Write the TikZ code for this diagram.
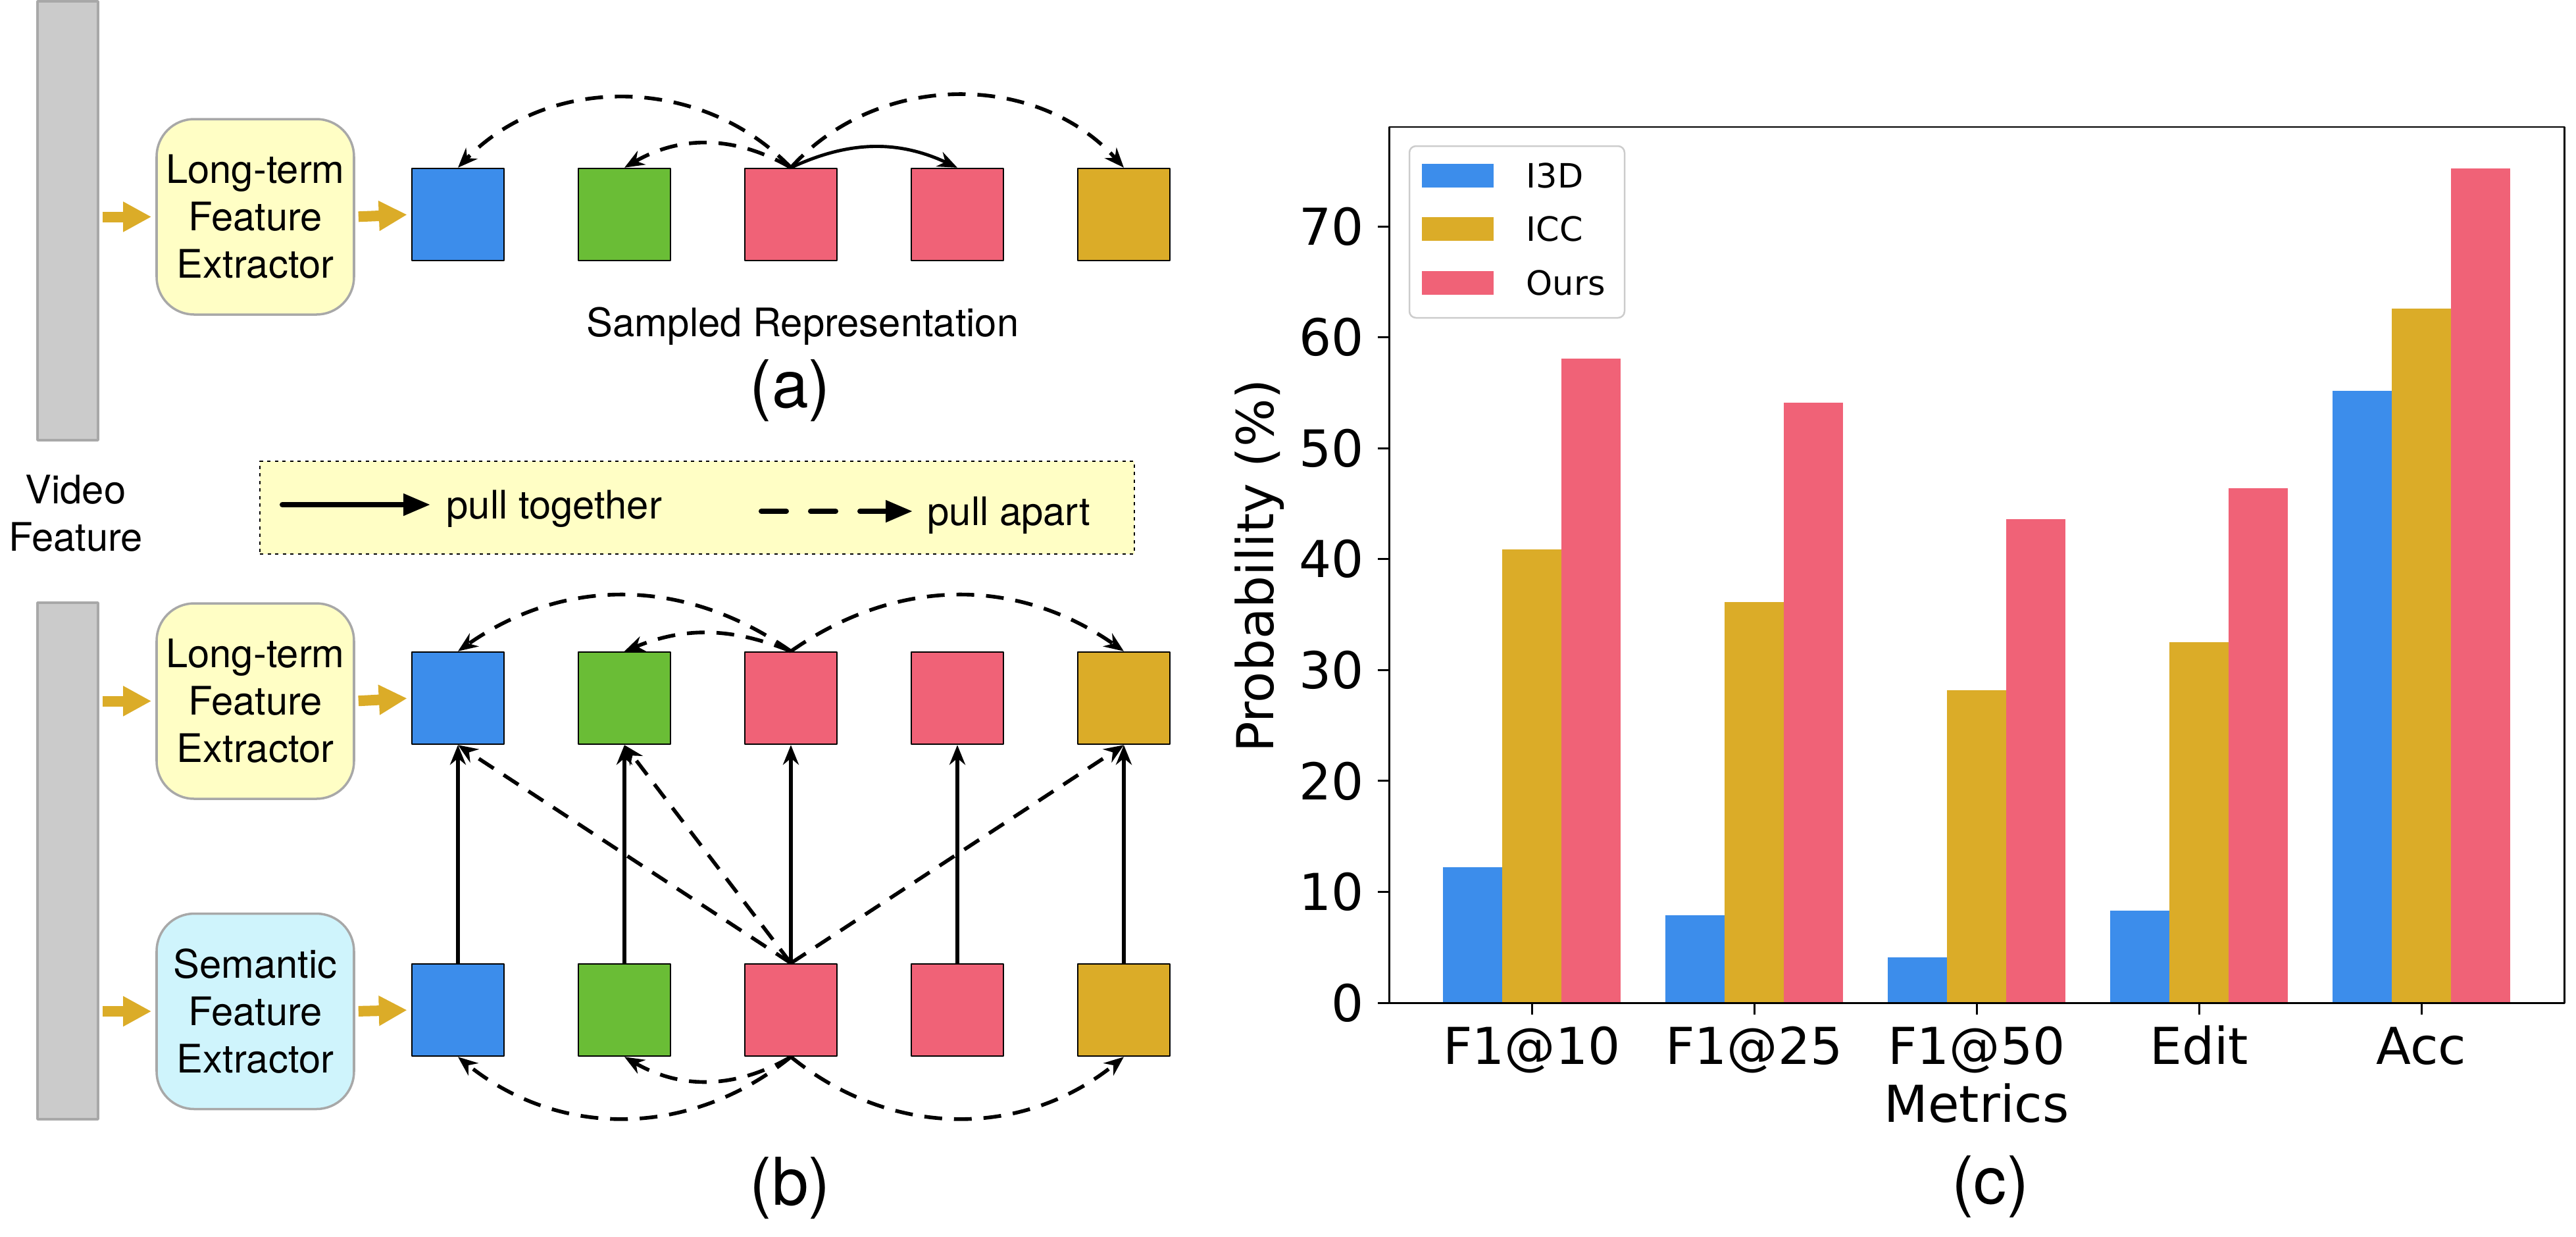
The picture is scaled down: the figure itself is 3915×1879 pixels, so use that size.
\documentclass[tikz,border=0pt]{standalone}
\usepackage{fontspec}
\setmainfont{TeX Gyre Heros}
\newfontfamily\chartfont{DejaVu Sans}
\usetikzlibrary{arrows.meta}
\definecolor{cblue}{HTML}{3C8DEB}
\definecolor{cgreen}{HTML}{6ABD36}
\definecolor{cpink}{HTML}{F06277}
\definecolor{cgold}{HTML}{DBAC28}
\definecolor{cyel}{HTML}{FFFEC5}
\definecolor{ccyan}{HTML}{CFF4FC}
\definecolor{cbar}{HTML}{CBCBCB}
\definecolor{cedge}{HTML}{A8A8A8}
\tikzset{
  sq/.style={draw=black, line width=0.7pt, minimum size=14mm, inner sep=0pt},
  extractor/.style={draw=cedge, line width=1pt, rounded corners=5.7mm, minimum width=30mm, minimum height=29.7mm, align=center, inner sep=0pt},
  featbar/.style={draw=cedge, line width=1pt, fill=cbar, minimum width=9.2mm, inner sep=0pt},
  feed/.style={draw=cgold, line width=1.6mm, -{Triangle[length=4.3mm,width=4.3mm]}, shorten <=0.5mm, shorten >=0.6mm},
  pull/.style={->, line width=1.4pt},
  push/.style={->, line width=1.6pt, dash pattern=on 2.7mm off 1.8mm},
  axisline/.style={line width=0.85pt},
}
\begin{document}
\begin{tikzpicture}[x=0.1mm, y=-0.1mm, >={Stealth[length=3mm,width=2.4mm]}, font=\fontsize{17}{20.5}\selectfont, line join=round]
	\useasboundingbox (0,0) rectangle (3915,1879);
	\def\dx{253} \def\xa{696} % column step, first column
	% video feature bars
	\node[featbar, minimum height=66.7mm] (vfa) at (103,335.5) {};
	\node[featbar, minimum height=78.5mm] (vfb) at (103,1308.5) {};
	\node[align=center] (vft) at (115,780) {Video\\Feature};
	% extractors
	\node[extractor, fill=cyel] (lfa) at (388,329.5) {Long-term\\Feature\\Extractor};
	\node[extractor, fill=cyel] (lfb) at (388,1065.5) {Long-term\\Feature\\Extractor};
	\node[extractor, fill=ccyan] (sfb) at (388,1537) {Semantic\\Feature\\Extractor};
	% representations
	\foreach \i/\c in {1/cblue,2/cgreen,3/cpink,4/cpink,5/cgold}{
		\node[sq, fill=\c] (a\i) at ({\xa+\dx*(\i-1)},326) {};
		\node[sq, fill=\c] (t\i) at ({\xa+\dx*(\i-1)},1061) {};
		\node[sq, fill=\c] (s\i) at ({\xa+\dx*(\i-1)},1535) {};
	}
	\draw[feed] (vfa.east |- lfa.west) -- (lfa.west);
	\draw[feed] (lfa.east) -- (a1.west);
	\draw[feed] (vfb.east |- lfb.west) -- (lfb.west);
	\draw[feed] (lfb.east) -- (t1.west);
	\draw[feed] (vfb.east |- sfb.west) -- (sfb.west);
	\draw[feed] (sfb.east) -- (s1.west);
	% (a)
	\draw[push] (a3.north) to[bend right=46] (a1.north);
	\draw[push] (a3.north) to[bend right=30] (a2.north);
	\draw[pull] (a3.north) to[bend left=25] (a4.north);
	\draw[push] (a3.north) to[bend left=48] (a5.north);
	\node[anchor=base] (samp) at (1220,511) {Sampled Representation};
	\node[anchor=base, font=\fontsize{28.5}{34}\selectfont] (capa) at (1201,619) {(a)};
	% key
	\node[draw, fill=cyel, line width=0.25mm, dash pattern=on 0.5mm off 0.65mm, minimum width=132.9mm, minimum height=14.1mm] (key) at (1059.5,771.5) {};
	\coordinate (tg0) at (429,767); \coordinate (tg1) at (654,767);
	\coordinate (ap0) at (1157,777); \coordinate (ap1) at (1387,777);
	\draw[line width=0.8mm, line cap=round, -{Triangle[length=4.1mm,width=3.2mm]}] (tg0) -- (tg1);
	\draw[line width=0.8mm, line cap=round, dash pattern=on 3.8mm off 3.7mm, -{Triangle[length=4.1mm,width=3.2mm]}] (ap0) -- (ap1);
	\node[anchor=base west, inner sep=0pt] (tgt) at (678,788) {pull together};
	\node[anchor=base west, inner sep=0pt] (apt) at (1409,798) {pull apart};
	% (b)
	\foreach \i in {1,...,5} \draw[pull, line width=1.7pt] (s\i.north) -- (t\i.south);
	\foreach \j in {1,2,5} \draw[push] (s3.north) -- (t\j.south);
	\draw[push] (t3.north) to[bend right=35] (t1.north);
	\draw[push] (t3.north) to[bend right=22] (t2.north);
	\draw[push] (t3.north) to[bend left=35] (t5.north);
	\draw[push] (s3.south) to[bend left=39] (s1.south);
	\draw[push] (s3.south) to[bend left=30] (s2.south);
	\draw[push] (s3.south) to[bend right=39] (s5.south);
	\node[anchor=base, font=\fontsize{28.5}{34}\selectfont] (capb) at (1201,1831) {(b)};
	% (c) bar chart
	\begin{scope}[shift={(2328,1524)}, x=33.8mm, y=1.6857mm, font=\chartfont\fontsize{22}{26}\selectfont]
		\def\bw{0.2667}
		\foreach \i/\m/\va/\vb/\vc in {0/F1@10/12.2/40.9/58.1, 1/F1@25/7.9/36.1/54.1, 2/F1@50/4.1/28.2/43.6, 3/Edit/8.3/32.5/46.4, 4/Acc/55.2/62.6/75.2}{
			\fill[cblue] (\i-0.4,0) rectangle ++(\bw,\va);
			\fill[cgold] (\i-0.4+\bw,0) rectangle ++(\bw,\vb);
			\fill[cpink] (\i-0.4+2*\bw,0) rectangle ++(\bw,\vc);
			\draw[axisline] (\i,0) -- ++(0,-1.8mm);
			\node[anchor=base] at (\i,-5.52) {\m};
		}
		\foreach \v in {0,10,...,70}
			\draw[axisline] (-0.642,\v) -- ++(-1.7mm,0) node[left, inner sep=2mm] {\v};
		\draw[axisline] (-0.642,0) rectangle (4.642,78.96);
		\node[rotate=90] at (-1.225,39.4) {Probability (\%)};
		\node[anchor=base] at (2,-10.74) {Metrics};
	\end{scope}
	% chart legend
	\draw[draw=black!20, fill=white, line width=0.25mm, rounded corners=1mm] (2142,222) rectangle (2469,483);
	\foreach \y/\c/\t in {267/cblue/I3D, 348/cgold/ICC, 430/cpink/Ours}{
		\fill[\c] (2161,\y-18) rectangle (2270,\y+18);
		\node[anchor=west, inner sep=0pt, font=\chartfont\fontsize{14.5}{17}\selectfont] at (2319,\y) {\t};
	}
	\node[anchor=base, font=\fontsize{28.5}{34}\selectfont] (capc) at (3025,1829) {(c)};
\end{tikzpicture}
\end{document}
